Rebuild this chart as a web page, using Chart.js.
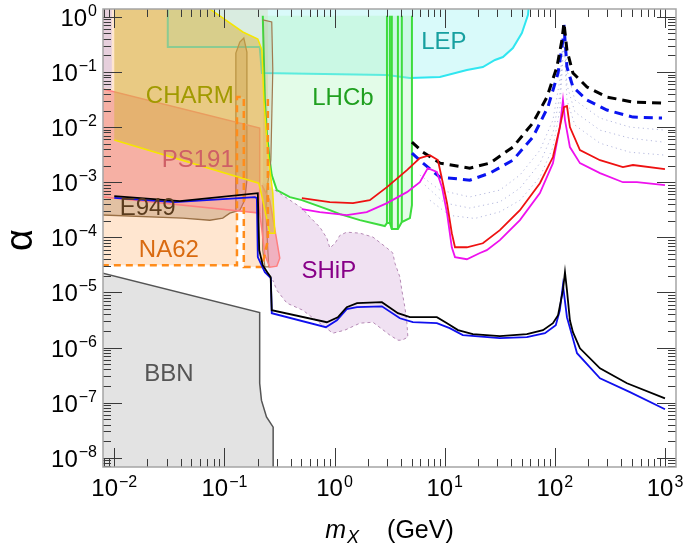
<!DOCTYPE html>
<html><head><meta charset="utf-8">
<style>html,body{margin:0;padding:0;background:#fff;overflow:hidden}canvas{display:block}</style>
<script src="https://cdn.jsdelivr.net/npm/chart.js@4.4.1/dist/chart.umd.min.js"></script>
</head><body>
<canvas id="c" width="683" height="548"></canvas>
<script>
// ---------- axis ranges & ticks ----------
const X_MIN = 0.0079, X_MAX = 1259, Y_MIN = 6.8e-9, Y_MAX = 1.39;
const xTickValues = [1e-2, 1e-1, 1, 10, 100, 1000];
const xTickExponents = ['\u22122', '\u22121', '0', '1', '2', '3'];
const yTickValues = [1e-8, 1e-7, 1e-6, 1e-5, 1e-4, 1e-3, 1e-2, 1e-1, 1];
const yTickExponents = ['\u22128', '\u22127', '\u22126', '\u22125', '\u22124', '\u22123', '\u22122', '\u22121', '0'];

// ---------- curves: [m_X (GeV), alpha] ----------
const blackSolid = [[0.01,5.6e-4],[0.0394,4.54e-4],[0.201,6.34e-4],[0.207,5.85e-5],[0.223,3.13e-5],[0.248,2.24e-5],[0.263,1.9e-5],[0.269,4.77e-6],[0.851,2.88e-6],[1.07,3.55e-6],[1.29,5.4e-6],[1.60,6.38e-6],[2.69,6.65e-6],[3.76,4.2e-6],[4.83,3.55e-6],[8.49,3.55e-6],[10.5,2.77e-6],[13.2,2.07e-6],[18.0,1.75e-6],[31.7,1.61e-6],[55.7,1.75e-6],[78.0,2.07e-6],[96.1,2.77e-6],[107,3.86e-6],[118.5,1.1e-5],[123.6,2.33e-5],[128.8,1.1e-5],[137,3.13e-6],[146,1.9e-6],[169,9.7e-7],[257,4.2e-7],[452,2.25e-7],[1000,1.2e-7]];
const blueSolid = [[0.01,5.2e-4],[0.0354,4.36e-4],[0.189,5.37e-4],[0.197,5.15e-4],[0.201,4.37e-5],[0.233,2.33e-5],[0.264,1.82e-5],[0.269,4.2e-6],[0.834,2.34e-6],[1.05,3.13e-6],[1.29,4.97e-6],[1.60,5.4e-6],[2.69,5.6e-6],[3.92,3.4e-6],[5.14,2.88e-6],[8.49,2.77e-6],[11.1,2.25e-6],[14.6,1.68e-6],[31.7,1.48e-6],[55.7,1.54e-6],[81.3,1.82e-6],[102,2.54e-6],[111,4.76e-6],[118.5,1.36e-5],[128.8,3.55e-6],[143,1.68e-6],[159,7.9e-7],[257,2.77e-7],[481,1.55e-7],[1000,7.6e-8]];
const redSolid = [[0.505,5.15e-4],[0.906,4.36e-4],[1.47,4.18e-4],[2.09,4.73e-4],[2.99,8.15e-4],[4.54,1.66e-3],[5.95,2.74e-3],[7.34,3.1e-3],[8.67,2.52e-3],[9.63,9.6e-4],[10.5,4.18e-4],[11.6,1.19e-4],[12.4,6.6e-5],[15.9,6.6e-5],[22.2,7.8e-5],[31.7,1.35e-4],[48.2,3.11e-4],[73.2,9.6e-4],[96.1,2.86e-3],[111,0.01],[121,0.0231],[128.8,0.0241],[137,0.01],[169,3.83e-3],[257,2.51e-3],[415,1.88e-3],[512,2.05e-3],[1000,1.73e-3]];
const magentaSolid = [[0.505,3.25e-4],[0.735,2.86e-4],[1.29,2.53e-4],[1.96,2.86e-4],[2.99,4.18e-4],[4.54,6.6e-4],[5.95,1.0e-3],[7.03,1.8e-3],[8.49,1.53e-3],[9.44,8.15e-4],[10.5,2.75e-4],[11.6,6.6e-5],[12.4,4.37e-5],[15.9,4.0e-5],[20.9,5.2e-5],[24.1,5.85e-5],[31.7,8.9e-5],[48.2,2.05e-4],[73.2,6.34e-4],[96.1,2.22e-3],[111,0.01],[118.5,0.031],[123.6,0.0134],[137,4.34e-3],[169,2.22e-3],[257,1.46e-3],[415,1.0e-3],[556,1.0e-3],[1000,8.87e-4]];
const blackDashed = [[5.04,5.35e-3],[6.34,3.52e-3],[9.04,2.22e-3],[16.9,1.8e-3],[25.7,2.22e-3],[41.6,4.34e-3],[63.2,0.0119],[84.8,0.0351],[104.4,0.123],[116,0.38],[121,0.775],[128.8,0.25],[146,0.0958],[196,0.0533],[297,0.0351],[512,0.0285],[1000,0.0273]];
const blueDashed = [[5.04,3.38e-3],[6.34,2.22e-3],[9.04,1.24e-3],[16.9,1.09e-3],[25.7,1.46e-3],[41.6,2.51e-3],[63.2,6.6e-3],[86.5,0.0231],[107,0.0958],[118.5,0.38],[121,0.713],[128.8,0.123],[146,0.0533],[196,0.031],[297,0.0204],[512,0.0152],[940,0.0146]];
const dottedA = [[5.95,1.35e-3],[9.04,7.2e-4],[16.9,5.4e-4],[31.7,7.2e-4],[48.2,1.35e-3],[73.2,3.8e-3],[96.1,0.0134],[111,0.0715],[121,0.58],[128.8,0.109],[152,0.031],[257,0.0146],[481,0.010],[1000,8.8e-3]];
const dottedB = [[6.6,8.9e-4],[10,4.2e-4],[16.9,3.4e-4],[31.7,4.4e-4],[48.2,7.8e-4],[73.2,2.2e-3],[96.1,7.8e-3],[111,0.038],[121,0.47],[128.8,0.058],[152,0.0188],[257,8.8e-3],[481,6.3e-3],[1000,5.3e-3]];
const dottedC = [[7.34,4.7e-4],[11.1,2.5e-4],[18.8,2.2e-4],[31.7,2.9e-4],[48.2,4.7e-4],[73.2,1.24e-3],[96.1,4.3e-3],[111,0.0204],[121,0.38],[128.8,0.031],[152,0.0109],[257,5.1e-3],[481,3.5e-3],[1000,3.1e-3]];

// ---------- exclusion regions: [m_X (GeV), alpha] ----------
const bbnRegion = [[0.005,2.8e-5],[0.209,4.31e-6],[0.209,2.25e-7],[0.217,1.1e-7],[0.241,5.5e-8],[0.277,3.6e-8],[0.277,1e-9],[0.005,1e-9]];
const lepRegion = [[0.0306,3],[0.0306,0.284],[0.209,0.284],[0.219,0.0958],[2.99,0.0881],[4.83,0.0777],[9.04,0.081],[15.9,0.109],[22.2,0.123],[28.6,0.165],[33.8,0.187],[41.6,0.272],[50.2,0.51],[57,1.08],[60,3]];
const lhcbRegion = [[0.223,1.05],[0.233,0.031],[0.243,7.8e-3],[0.258,2.51e-3],[0.269,1.35e-3],[0.299,7.2e-4],[0.393,5.36e-4],[0.505,4.73e-4],[0.906,3.11e-4],[1.12,2.64e-4],[1.70,2.05e-4],[2.86,1.6e-4],[2.99,1.81e-4],[3.18,1.81e-4],[3.31,1.41e-4],[3.76,1.41e-4],[4.08,1.89e-4],[4.83,2.23e-4],[5.04,3.84e-4],[5.04,1.05]];
const lhcbStripMass = [2.99, 3.18, 3.31, 3.76, 4.08];
const lhcbStripBottom = [1.81e-4, 1.81e-4, 1.41e-4, 1.41e-4, 1.89e-4];
const lhcbStripTop = 1.05;
const charmRegion = [[0.01,3],[0.0425,3],[0.147,0.532],[0.201,0.397],[0.219,0.251],[0.228,0.031],[0.248,3.38e-3],[0.275,6.34e-4],[0.287,1.19e-4],[0.258,1.19e-4],[0.223,4.73e-4],[0.205,9.6e-4],[0.01,5.82e-3]];
const ps191Region = [[0.006,0.0561],[0.209,9.6e-3],[0.209,2.75e-4],[0.006,5.7e-4]];
const ps191Tongue = [[0.219,8.87e-4],[0.258,4.73e-4],[0.293,1.1e-4],[0.318,4.19e-5],[0.299,3.0e-5],[0.258,2.88e-5],[0.233,4.75e-5],[0.219,1.35e-4],[0.209,2.75e-4]];
const e949Region = [[0.006,5.7e-4],[0.127,3.04e-4],[0.127,0.221],[0.138,0.35],[0.150,0.414],[0.160,0.23],[0.160,1.09e-3],[0.153,4.73e-4],[0.138,3.11e-4],[0.112,2.74e-4],[0.0966,2.23e-4],[0.0737,2.04e-4],[0.0419,2.23e-4],[0.006,2.6e-4]];
const e949Strip = [[0.223,0.88],[0.269,0.81],[0.275,0.109],[0.264,2.51e-3],[0.243,7.2e-4],[0.238,3.11e-4],[0.248,5.85e-5],[0.253,2.9e-5],[0.233,2.9e-5],[0.223,5.85e-5],[0.223,4.73e-4]];
const na62Region = [[0.006,10],[0.248,10],[0.248,8.9e-5],[0.219,2.88e-5],[0.150,2.88e-5],[0.150,0.0351],[0.130,0.0351],[0.130,3.13e-5],[0.006,3.13e-5]];
const na62Edge = [[0.006,3.13e-5],[0.130,3.13e-5],[0.130,0.0351],[0.150,0.0351],[0.150,2.88e-5],[0.219,2.88e-5],[0.248,8.9e-5],[0.248,0.0351]];
const shipRegion = [[0.219,1.0e-3],[0.287,7.2e-4],[0.393,4.73e-4],[0.505,3.39e-4],[0.597,2.33e-4],[0.735,1.53e-4],[0.851,9.7e-5],[0.906,6.4e-5],[1.01,7.8e-5],[1.12,1.09e-4],[1.29,1.24e-4],[1.70,1.19e-4],[2.23,1.01e-4],[2.99,6.4e-5],[3.38,5.2e-5],[3.53,3.4e-5],[3.92,1.9e-5],[4.08,1.1e-5],[4.35,5.4e-6],[4.54,2.77e-6],[4.63,1.54e-6],[4.08,1.36e-6],[3.76,1.36e-6],[3.18,1.68e-6],[2.23,2.88e-6],[1.70,2.77e-6],[1.24,2.07e-6],[0.964,1.82e-6],[0.735,2.77e-6],[0.515,4.76e-6],[0.369,6.4e-6],[0.299,1.1e-5],[0.275,1.67e-5],[0.248,2.75e-5]];
const shipLowMass = [[0.006,10],[0.0095,10],[0.0095,0.05],[0.006,0.05]];

// ---------- region labels ----------
const labelTexts = ['CHARM','PS191','E949','NA62','LHCb','LEP','SHiP','BBN'];
const labelMass  = [0.0485, 0.0573, 0.0201, 0.0313, 1.19, 9.84, 0.887, 0.0313];
const labelAlpha = [0.0366, 2.52e-3, 3.39e-4, 5.85e-5, 0.0337, 0.35, 2.43e-5, 3.27e-7];
const labelColors = ['#a19a00','#cf5f66','#5a3c1e','#d96a10','#1fa01f','#17a0a0','#880088','#555555'];

const FONT = "'Liberation Sans', Arial, Helvetica, sans-serif";
const pts = a => a.map(p => ({x: p[0], y: p[1]}));
function region(arr, fillColor, lineColor, width, dash) {
  return {data: pts(arr), showLine: true, fill: 'shape', backgroundColor: fillColor,
    borderColor: lineColor || 'rgba(0,0,0,0)', borderWidth: width || 0, borderDash: dash || [], pointRadius: 0};
}
function line(arr, color, width, dash) {
  return {data: pts(arr), showLine: true, fill: false, borderColor: color, backgroundColor: color,
    borderWidth: width, borderDash: dash || [], pointRadius: 0};
}

const backToFront = [
  region(bbnRegion, '#e3e3e3', '#555555', 1.5),
  region(shipRegion, 'rgba(225,195,230,0.5)'),
  line(shipRegion.slice(1, -1), '#b58ab5', 1, [3, 3]),
  region(na62Region, 'rgba(255,200,150,0.45)'),
  region(shipLowMass, 'rgba(200,180,235,0.45)'),
  region(lepRegion, 'rgba(170,245,245,0.45)', '#30e6f0', 2),
  region(lhcbRegion, 'rgba(175,245,190,0.35)', '#3ddc3d', 2),
  ...lhcbStripMass.map((m, i) => line([[m, lhcbStripTop], [m, lhcbStripBottom[i]]], '#3ddc3d', 2)),
  region(e949Region, 'rgba(160,110,60,0.3)'),
  line(e949Region.slice(1), '#9a7045', 1.3),
  region(e949Strip, 'rgba(160,120,80,0.15)', '#a07a50', 1.2),
  region(ps191Region, 'rgba(235,110,110,0.45)', '#ff7f7f', 1.5),
  region(ps191Tongue, 'rgba(240,120,130,0.45)', '#ff7f7f', 1.5),
  region(charmRegion, 'rgba(215,180,70,0.55)'),
  line(charmRegion.slice(1), '#f5e600', 1.5),
  line(na62Edge, '#ff8c1a', 2.5, [7, 5]),
  line(dottedC, '#b4b8dd', 1, [1.2, 3.5]),
  line(dottedB, '#b4b8dd', 1, [1.2, 3.5]),
  line(dottedA, '#b4b8dd', 1, [1.2, 3.5]),
  line(blueDashed, '#0a14f0', 3, [9, 6]),
  line(blackDashed, '#000000', 3, [9, 6]),
  line(magentaSolid, '#ee11ee', 1.8),
  line(redSolid, '#ee1111', 1.8),
  line(blueSolid, '#1010ee', 1.8),
  line(blackSolid, '#000000', 1.8)
];
const datasets = backToFront.slice().reverse();

const labelsPlugin = {
  id: 'regionLabels',
  afterDatasetsDraw(chart) {
    const {ctx, scales: {x, y}} = chart;
    ctx.save();
    ctx.font = `24px ${FONT}`;
    ctx.textAlign = 'center'; ctx.textBaseline = 'middle';
    labelTexts.forEach((t, i) => {
      ctx.fillStyle = labelColors[i];
      ctx.fillText(t, x.getPixelForValue(labelMass[i]), y.getPixelForValue(labelAlpha[i]));
    });
    ctx.restore();
  }
};

const framePlugin = {
  id: 'frame',
  afterDraw(chart) {
    const {ctx, chartArea: a, scales: {x, y}} = chart;
    ctx.save();
    ctx.strokeStyle = '#3a3a3a'; ctx.lineWidth = 1;
    ctx.beginPath();
    for (let n = -3; n <= 3; n++) for (let k = 1; k <= 9; k++) {
      const v = k * Math.pow(10, n);
      if (v < x.min || v > x.max) continue;
      const p = Math.round(x.getPixelForValue(v)) + 0.5, L = k === 1 ? 19 : 8;
      ctx.moveTo(p, a.bottom); ctx.lineTo(p, a.bottom - L);
      ctx.moveTo(p, a.top); ctx.lineTo(p, a.top + L);
    }
    for (let n = -9; n <= 0; n++) for (let k = 1; k <= 9; k++) {
      const v = k * Math.pow(10, n);
      if (v < y.min || v > y.max) continue;
      const p = Math.round(y.getPixelForValue(v)) + 0.5, L = k === 1 ? 19 : 8;
      ctx.moveTo(a.left, p); ctx.lineTo(a.left + L, p);
      ctx.moveTo(a.right, p); ctx.lineTo(a.right - L, p);
    }
    ctx.stroke();
    ctx.strokeStyle = '#a5a5a5'; ctx.lineWidth = 1.5;
    ctx.strokeRect(a.left, a.top, a.right - a.left, a.bottom - a.top);

    // tick labels
    ctx.fillStyle = '#000'; ctx.textBaseline = 'alphabetic'; ctx.textAlign = 'left';
    const big = `24px ${FONT}`, small = `16px ${FONT}`;
    ctx.font = big; const wb = ctx.measureText('10').width;
    yTickValues.forEach((v, i) => {
      const py = y.getPixelForValue(v), e = yTickExponents[i];
      ctx.font = small; const we = ctx.measureText(e).width;
      const right = a.left - 6;
      ctx.fillText(e, right - we, py - 1);
      ctx.font = big; ctx.fillText('10', right - we - wb - 1, py + 9);
    });
    xTickValues.forEach((v, i) => {
      const px = x.getPixelForValue(v), e = xTickExponents[i];
      ctx.font = small; const we = ctx.measureText(e).width;
      const left = px - (wb + we + 1) / 2;
      ctx.font = big; ctx.fillText('10', left, a.bottom + 29);
      ctx.font = small; ctx.fillText(e, left + wb + 1, a.bottom + 20);
    });

    // axis titles
    ctx.save();
    ctx.translate(22, (a.top + a.bottom) / 2 + 2);
    ctx.rotate(-Math.PI / 2);
    ctx.font = `38px ${FONT}`; ctx.textAlign = 'center'; ctx.textBaseline = 'middle';
    ctx.fillText('\u03b1', 0, 0);
    ctx.restore();
    ctx.textAlign = 'left';
    ctx.font = `italic 25px ${FONT}`; const wm = ctx.measureText('m').width;
    ctx.font = `italic 18px ${FONT}`; const wx = ctx.measureText('X').width;
    ctx.font = `25px ${FONT}`; const wg = ctx.measureText('(GeV)').width;
    const gap = 28, total = wm + 1 + wx + gap + wg;
    let sx = (a.left + a.right) / 2 - total / 2;
    const base = a.bottom + 71;
    ctx.font = `italic 25px ${FONT}`; ctx.fillText('m', sx, base);
    ctx.font = `italic 18px ${FONT}`; ctx.fillText('X', sx + wm + 1, base + 5);
    ctx.font = `25px ${FONT}`; ctx.fillText('(GeV)', sx + wm + 1 + wx + gap, base);
    ctx.restore();
  }
};

new Chart(document.getElementById('c'), {
  type: 'scatter',
  data: {datasets},
  options: {
    responsive: false, animation: false, events: [],
    layout: {padding: {top: 9, right: 7, left: 0, bottom: 0}},
    plugins: {legend: {display: false}, tooltip: {enabled: false}},
    elements: {point: {radius: 0}, line: {tension: 0}},
    scales: {
      x: {type: 'logarithmic', min: X_MIN, max: X_MAX, grid: {display: false}, border: {display: false},
          ticks: {display: false}, afterFit(s) { s.height = 81; }},
      y: {type: 'logarithmic', min: Y_MIN, max: Y_MAX, grid: {display: false}, border: {display: false},
          ticks: {display: false}, afterFit(s) { s.width = 103; }}
    }
  },
  plugins: [labelsPlugin, framePlugin]
});
</script>
</body></html>
